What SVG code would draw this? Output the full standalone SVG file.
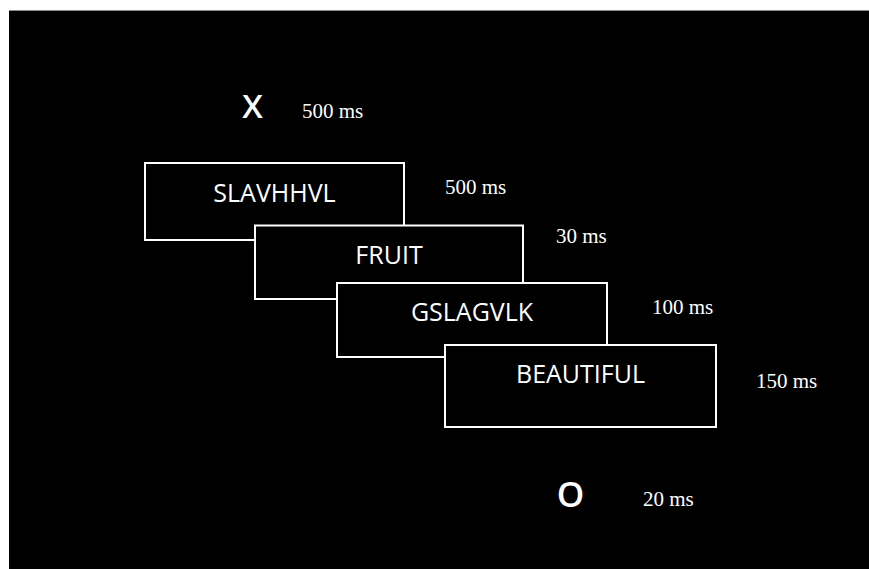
<svg xmlns="http://www.w3.org/2000/svg" width="869" height="569" viewBox="0 0 869 569">
<style>
.frame{fill:#000;stroke:#fff;stroke-width:2}
.word{font-family:"Open Sans","Noto Sans",sans-serif;font-size:25px;fill:#fff;text-anchor:middle}
.mark{font-family:"Open Sans","Noto Sans",sans-serif;font-size:33px;font-weight:600;fill:#fff;text-anchor:middle}
.ms{font-family:"Liberation Serif","Times New Roman",serif;font-size:21px;fill:#fff}
</style>
<rect x="0" y="0" width="869" height="569" fill="#fff"/>
<rect x="9" y="10" width="860" height="559" fill="#000"/>
<line x1="9" y1="10.5" x2="869" y2="10.5" stroke="#888" stroke-width="1"/>
<g id="fixation">
<text class="mark" x="252.5" y="118">X</text>
<text class="ms" x="302" y="118">500 ms</text>
</g>
<g id="mask1">
<rect class="frame" x="145" y="163" width="259" height="77"/>
<text class="word" x="274.5" y="202">SLAVHHVL</text>
<text class="ms" x="445" y="194">500 ms</text>
</g>
<g id="prime">
<rect class="frame" x="255" y="225.5" width="268" height="73.5"/>
<text class="word" x="389" y="264">FRUIT</text>
<text class="ms" x="556" y="243">30 ms</text>
</g>
<g id="mask2">
<rect class="frame" x="337" y="283" width="270" height="74"/>
<text class="word" x="472" y="321">GSLAGVLK</text>
<text class="ms" x="652" y="314">100 ms</text>
</g>
<g id="target">
<rect class="frame" x="445" y="345" width="271" height="82"/>
<text class="word" x="580.5" y="383">BEAUTIFUL</text>
<text class="ms" x="756" y="388">150 ms</text>
</g>
<g id="response">
<text class="mark" x="570.5" y="507" style="font-size:35px">O</text>
<text class="ms" x="643" y="506">20 ms</text>
</g>
<g id="connectors"></g>
</svg>
